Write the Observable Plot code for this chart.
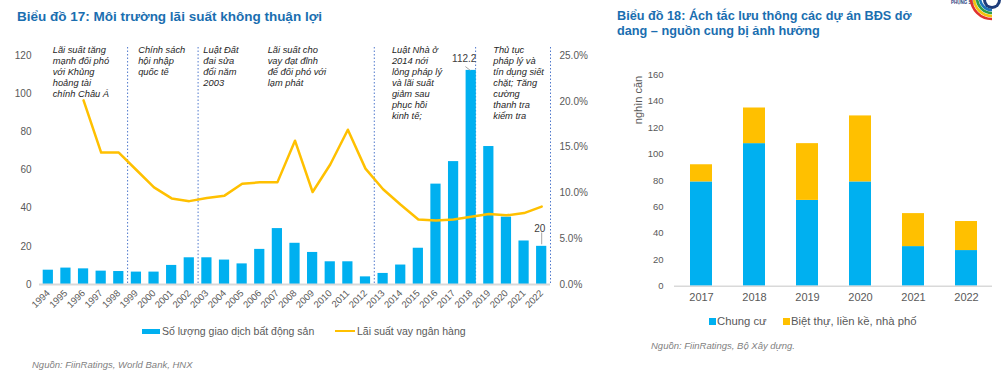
<!DOCTYPE html>
<html>
<head>
<meta charset="utf-8">
<script src="https://cdn.jsdelivr.net/npm/d3@7"></script>
<script src="https://cdn.jsdelivr.net/npm/@observablehq/plot@0.6"></script>
<style>
  body { margin: 0; background: #fff; font-family: "Liberation Sans", Arial, sans-serif; }
  #wrap { position: relative; width: 1008px; height: 379px; overflow: hidden; background: #fff; }
  .abs { position: absolute; white-space: nowrap; }
  .title { color: #1a6eb0; font-weight: bold; font-size: 13.5px; line-height: 16px; z-index: 2; }
  .legend { color: #595959; z-index: 2; }
  .src { color: #7f7f7f; font-style: italic; font-size: 9.5px; line-height: 12px; z-index: 2; }
  .sw { position: absolute; }
  #left, #right { position: absolute; top: 0; z-index: 1; }
</style>
</head>
<body>
<div id="wrap">
  <div id="left" style="left:0"></div>
  <div id="right" style="left:600px"></div>

  <div class="abs title" style="left:17px; top:9px;">Biểu đồ 17: Môi trường lãi suất không thuận lợi</div>
  <div class="abs title" style="left:617px; top:8.5px; font-size:12.7px; line-height:15.6px;">Biểu đồ 18: Ách tắc lưu thông các dự án BĐS dở<br>dang – nguồn cung bị ảnh hưởng</div>

  <!-- left legend -->
  <div class="sw" style="left:142px; top:329px; width:18px; height:5px; background:#00b0f0; z-index:2"></div>
  <div class="abs legend" style="left:162px; top:325px; font-size:10.5px; line-height:12px;">Số lượng giao dịch bất động sản</div>
  <div class="sw" style="left:335px; top:330.3px; width:20px; height:2px; background:#ffc000; z-index:2"></div>
  <div class="abs legend" style="left:357px; top:325px; font-size:10.5px; line-height:12px;">Lãi suất vay ngân hàng</div>
  <div class="abs src" style="left:32px; top:359px;">Nguồn: FiinRatings, World Bank, HNX</div>

  <!-- right legend -->
  <div class="sw" style="left:709px; top:318px; width:6.5px; height:6.5px; background:#00b0f0; z-index:2"></div>
  <div class="abs legend" style="left:717px; top:314px; font-size:11.3px; line-height:14px;">Chung cư</div>
  <div class="sw" style="left:783px; top:318px; width:6.5px; height:6.5px; background:#ffc000; z-index:2"></div>
  <div class="abs legend" style="left:791px; top:314px; font-size:11.3px; line-height:14px;">Biệt thự, liền kề, nhà phố</div>
  <div class="abs src" style="left:651px; top:340px;">Nguồn: FiinRatings, Bộ Xây dựng.</div>
  <div class="abs legend" style="left:638px; top:100px; font-size:11px; line-height:12px; transform:translate(-50%,-50%) rotate(-90deg);">nghìn căn</div>

  <!-- logo -->
  <svg class="abs" style="left:940px; top:0; z-index:2" width="68" height="25" viewBox="0 0 68 25">
    <text x="11" y="3.5" font-size="4.5" font-weight="bold" fill="#1f3d7a" font-family="Liberation Sans, Arial">PHỤNG SỰ</text>
    <path d="M 31 -2 A 21 21 0 0 0 52 19" fill="none" stroke="#e0322e" stroke-width="2.6"/>
    <path d="M 34 -2 A 18 18 0 0 0 52 16" fill="none" stroke="#f4c20d" stroke-width="2.6"/>
    <path d="M 37 -2 A 15 15 0 0 0 52 13" fill="none" stroke="#2e9e48" stroke-width="2.6"/>
    <path d="M 40 -2 A 12 12 0 0 0 52 10" fill="none" stroke="#1c75bc" stroke-width="2.6"/>
    <circle cx="52" cy="0" r="9" fill="#1f3d7a"/>
    <circle cx="52" cy="0" r="6" fill="#fff"/>
  </svg>
</div>
<script>
// ---------- Biểu đồ 17 data ----------
const years = [1994,1995,1996,1997,1998,1999,2000,2001,2002,2003,2004,2005,2006,2007,2008,2009,2010,2011,2012,2013,2014,2015,2016,2017,2018,2019,2020,2021,2022];
const transactions = [7.5,8.6,8.2,7.0,6.8,6.5,6.5,10.0,14.0,14.0,12.8,10.8,18.4,29.3,21.6,16.8,11.9,11.9,4.0,5.8,10.2,19.0,52.6,64.4,112.2,72.3,35.3,22.8,20.0];
const rateYears = [1996,1997,1998,1999,2000,2001,2002,2003,2004,2005,2006,2007,2008,2009,2010,2011,2012,2013,2014,2015,2016,2017,2018,2019,2020,2021,2022];
const lendingRate = [20.1,14.4,14.4,12.5,10.6,9.4,9.1,9.45,9.7,11.0,11.15,11.15,15.7,10.1,13.1,16.9,12.65,10.4,8.7,7.1,7.0,7.1,7.4,7.7,7.55,7.8,8.5];
const leftTicks = [0,20,40,60,80,100,120];
const rightTicksPct = [0,5,10,15,20,25];
const dividers = [1998.5, 2002.5, 2012.5, 2018.25, 2022.5];
const annotationAt = [1994.25, 1999.1, 2002.8, 2006.45, 2013.5, 2019.25];
const annotationText = [
  "Lãi suất tăng\nmạnh đối phó\nvới Khủng\nhoảng tài\nchính Châu Á",
  "Chính sách\nhội nhập\nquốc tế",
  "Luật Đất\nđai sửa\nđổi năm\n2003",
  "Lãi suất cho\nvay đạt đỉnh\nđể đối phó với\nlạm phát",
  "Luật Nhà ở\n2014 nới\nlỏng pháp lý\nvà lãi suất\ngiảm sau\nphục hồi\nkinh tế;",
  "Thủ tục\npháp lý và\ntín dụng siết\nchặt; Tăng\ncường\nthanh tra\nkiểm tra"
];
const labeledYears = [2018, 2022];

// ---------- Biểu đồ 18 data ----------
const supplyYears = ["2017","2018","2019","2020","2021","2022"];
const seriesNames = ["Chung cư", "Biệt thự, liền kề, nhà phố"];
const apartments = [79,108,65,79,30,27];
const villas = [13,27,43,50,25,22];
const supplyTicks = [0,20,40,60,80,100,120,140,160];

// ---------- build tables ----------
const K = leftTicks[leftTicks.length-1] / rightTicksPct[rightTicksPct.length-1]; // % -> left units
const txData = years.map((y,i) => ({year: y, count: transactions[i]}));
const rateData = rateYears.map((y,i) => ({year: y, rate: lendingRate[i]}));
const notes = annotationAt.map((x,i) => ({at: x, label: annotationText[i]}));
const lab1 = txData.filter(d => d.year === labeledYears[0]);
const lab2 = txData.filter(d => d.year === labeledYears[1]);

const font = "Liberation Sans, Arial, sans-serif";
const gray = "#595959";

const left = Plot.plot({
  width: 600, height: 325,
  marginTop: 55, marginBottom: 41, marginLeft: 39, marginRight: 50,
  style: {background: "transparent", fontFamily: font, color: gray},
  x: {domain: [years[0]-0.5, years[years.length-1]+0.5], label: null},
  y: {domain: [0, leftTicks[leftTicks.length-1]], label: null},
  marks: [
    Plot.ruleX(dividers, {stroke: "#4f78cc", strokeWidth: 1, strokeDasharray: "1.5,2", insetTop: -8}),
    Plot.rectY(txData, {x1: d => d.year - 0.29, x2: d => d.year + 0.29, y: "count", fill: "#00b0f0"}),
    Plot.ruleY([0], {stroke: "#d9d9d9", strokeWidth: 2}),
    Plot.line(rateData, {x: "year", y: d => d.rate * K, stroke: "#ffc000", strokeWidth: 2.5}),
    Plot.axisY({ticks: leftTicks, tickSize: 0, tickPadding: 8, fontSize: 10, fill: gray, label: null}),
    Plot.axisY({anchor: "right", ticks: rightTicksPct.map(p => p * K), tickFormat: d => (d / K).toFixed(1) + "%",
                tickSize: 0, tickPadding: 9, fontSize: 10, fill: gray, label: null}),
    Plot.axisX({ticks: years, tickFormat: d => String(d), tickRotate: -45, tickSize: 0, tickPadding: 7,
                fontSize: 9.5, fill: gray, label: null}),
    Plot.text(notes, {x: "at", text: "label", frameAnchor: "top", textAnchor: "start", lineAnchor: "top",
                      dy: -10, fontStyle: "italic", fontSize: 9.3, lineHeight: 1.18, fill: "#262626"}),
    Plot.link(lab1, {x1: d => d.year - 0.33, y1: d => d.count + 2, x2: d => d.year - 0.05, y2: "count", stroke: "#a6a6a6"}),
    Plot.text(lab1, {x: "year", y: "count", text: d => String(d.count), dx: -7, dy: -12, fontSize: 10, fill: "#404040"}),
    Plot.ruleX(lab2, {x: "year", y1: d => d.count + 0.8, y2: d => d.count + 7, stroke: "#a6a6a6"}),
    Plot.text(lab2, {x: "year", y: "count", text: d => String(d.count), dx: -2, dy: -18, fontSize: 10, fill: "#404040"})
  ]
});
document.getElementById("left").appendChild(left);

const stackRows = [];
supplyYears.forEach((y,i) => stackRows.push({year: y, type: seriesNames[0], value: apartments[i]}));
supplyYears.forEach((y,i) => stackRows.push({year: y, type: seriesNames[1], value: villas[i]}));

const right = Plot.plot({
  width: 408, height: 310,
  marginTop: 74.5, marginBottom: 24.3, marginLeft: 74, marginRight: 16,
  style: {background: "transparent", fontFamily: font, color: gray},
  x: {type: "band", domain: supplyYears, paddingInner: 0.59, paddingOuter: 0.295, label: null},
  y: {domain: [0, supplyTicks[supplyTicks.length-1]], label: null},
  color: {domain: seriesNames, range: ["#00b0f0", "#ffc000"]},
  marks: [
    Plot.barY(stackRows, {x: "year", y: "value", fill: "type"}),
    Plot.ruleY([0], {stroke: "#d9d9d9", strokeWidth: 1.5}),
    Plot.axisY({ticks: supplyTicks, tickSize: 0, tickPadding: 11, fontSize: 9.5, fill: gray, label: null}),
    Plot.axisX({tickSize: 0, tickPadding: 7, fontSize: 11, fill: gray, label: null})
  ]
});
document.getElementById("right").appendChild(right);
</script>
</body>
</html>
